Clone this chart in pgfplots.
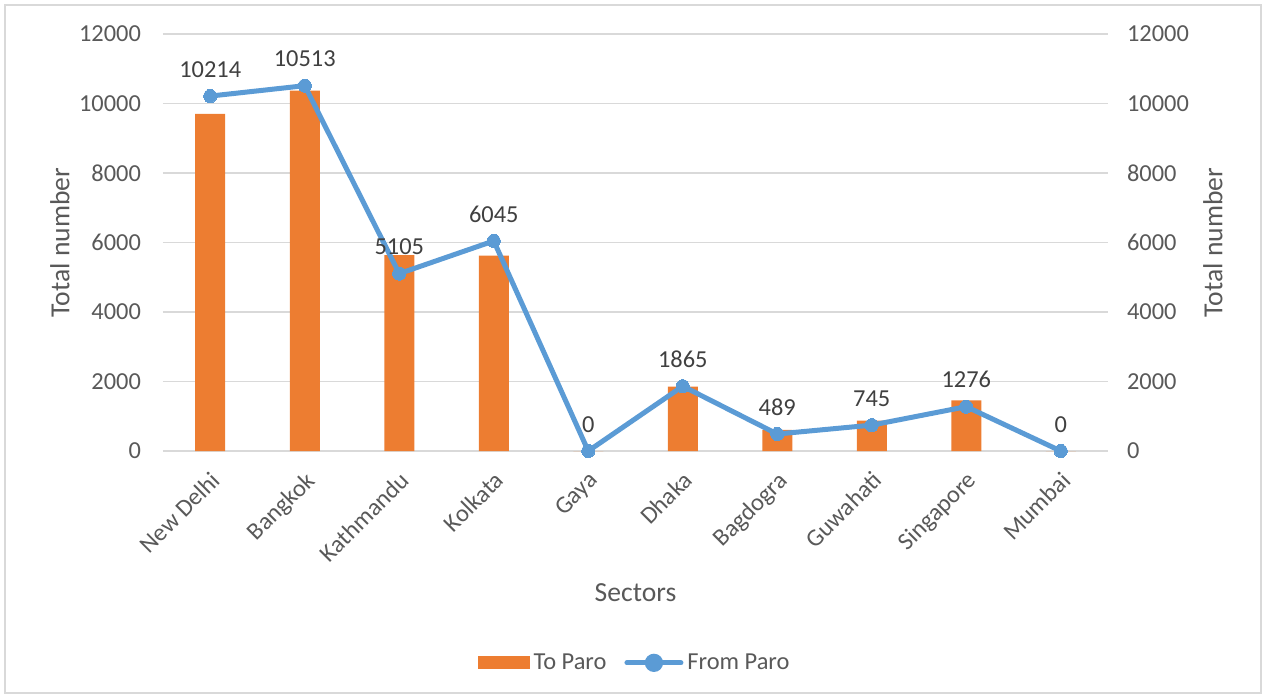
\documentclass[border=0pt]{standalone}
\usepackage{pgfplots}
\pgfplotsset{compat=1.18}
\usepackage{fontspec}
\setmainfont{Carlito}
\definecolor{barOrange}{HTML}{ED7D31}
\definecolor{lineBlue}{HTML}{5B9BD5}
\definecolor{txtGray}{HTML}{595959}
\definecolor{lblGray}{HTML}{404040}
\definecolor{gridGray}{HTML}{D9D9D9}

% 1 px of the reference = 0.5pt
\pgfplotstableread{
x  topar  frompar
0  9700   10214
1  10370  10513
2  5640   5105
3  5620   6045
4  0      0
5  1850   1865
6  610    489
7  875    745
8  1460   1276
9  0      0
}\sectordata

\pgfplotsset{
  common/.style={
    scale only axis,
    width=472.5pt, height=208.5pt,
    xmin=-0.5, xmax=9.5,
    ymin=0, ymax=12000,
    ytick={0,2000,...,12000},
    /pgf/number format/assume math mode=true,
    /pgf/number format/1000 sep={},
    scaled y ticks=false,
    tick style={draw=none},
    ticklabel style={font=\fontsize{12.2}{14}\selectfont, text=txtGray},
    label style={font=\fontsize{13.8}{16}\selectfont, text=txtGray},
  }
}

\begin{document}
\begin{tikzpicture}
\useasboundingbox (-81.5pt,-123.5pt) rectangle (551pt,225.5pt);
\draw[gridGray, line width=0.6pt] (-79pt,-121pt) rectangle (549pt,223pt);
\begin{axis}[
  common,
  axis y line*=left,
  axis x line*=bottom,
  axis line style={draw=none},
  ymajorgrids=true,
  grid style={gridGray, line width=0.8pt},
  xtick=data,
  xticklabels={New Delhi,Bangkok,Kathmandu,Kolkata,Gaya,Dhaka,Bagdogra,Guwahati,Singapore,Mumbai},
  xticklabel style={rotate=45, anchor=north east, xshift=-3.5pt, yshift=-3pt},
  yticklabel style={xshift=-7.5pt},
  xlabel={Sectors},
  xlabel style={at={(axis description cs:0.5,-0.34)}, anchor=center},
  ylabel={Total number},
  ylabel style={at={(axis description cs:-0.109,0.5)}, anchor=center},
  legend columns=2,
  legend style={at={(axis description cs:0.5,-0.508)}, anchor=center, draw=none,
    font=\fontsize{12.2}{14}\selectfont, text=txtGray,
    /tikz/every even column/.append style={column sep=7pt}},
  clip=false,
]
\addplot[ybar, bar width=15pt, fill=barOrange, draw=none,
  legend image code/.code={\fill[barOrange] (0pt,-3.25pt) rectangle (26pt,3.25pt);}]
  table[x=x, y=topar] {\sectordata};
\addlegendentry{To Paro}
\addplot[lineBlue, line width=2.5pt, mark=*, mark size=3.3pt,
  mark options={fill=lineBlue, draw=lineBlue, line width=0pt},
  nodes near coords, point meta=explicit,
  nodes near coords style={font=\fontsize{12.2}{14}\selectfont, text=lblGray, anchor=south, yshift=6pt},
  legend image code/.code={\draw[lineBlue, line width=2.5pt, line cap=round] (0pt,0pt) -- (27pt,0pt);
    \fill[lineBlue] (13.5pt,0pt) circle (3.3pt);}]
  table[x=x, y=frompar, meta=frompar] {\sectordata};
\addlegendentry{From Paro}
\end{axis}
\begin{axis}[
  common,
  axis y line*=right,
  axis x line=none,
  axis line style={draw=none},
  yticklabel style={xshift=6pt},
  ylabel={Total number},
  ylabel style={at={(axis description cs:1.111,0.5)}, anchor=center},
]
\addplot[draw=none] coordinates {(0,0)};
\end{axis}
\end{tikzpicture}
\end{document}
